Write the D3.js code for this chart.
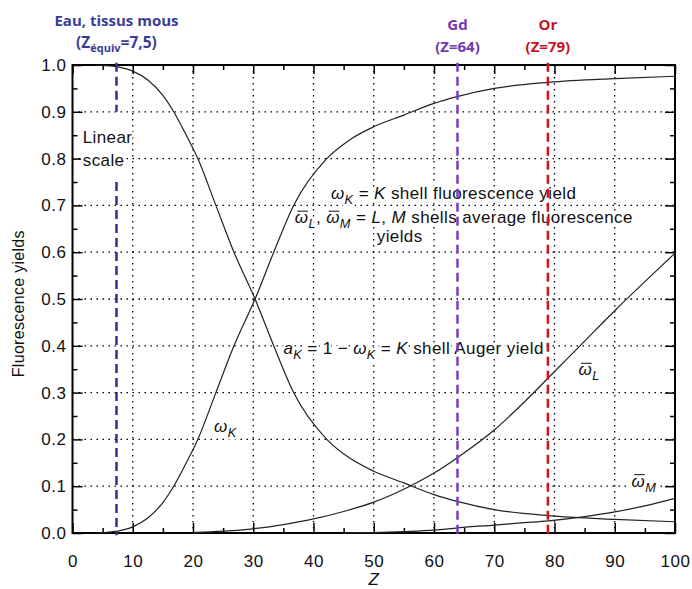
<!DOCTYPE html>
<html>
<head>
<meta charset="utf-8">
<script src="https://cdn.jsdelivr.net/npm/d3@7"></script>
<style>
  body { margin: 0; background: #fff; }
  svg { display: block; }
  text { font-family: "Liberation Sans", Arial, sans-serif; }
  .note { font-family: "Open Sans", Lato, sans-serif; font-weight: bold; }
  .halo { paint-order: stroke; stroke: #fff; stroke-width: 5px; stroke-linejoin: round; }
</style>
</head>
<body>
<div id="chart"></div>
<script>
// values
var zK = [4, 5, 7.5, 10, 12.5, 15, 16.8, 18.8, 20.8, 23.8, 26.8, 30.3, 33.4, 36.7, 42.2, 46, 50, 55, 60, 64, 70, 79, 90, 100];
var omegaK = [0, 0.001, 0.004, 0.013, 0.032, 0.065, 0.1, 0.148, 0.2, 0.3, 0.4, 0.5, 0.6, 0.7, 0.8, 0.84, 0.868, 0.893, 0.918, 0.933, 0.95, 0.963, 0.971, 0.976];
var augerK = [1, 0.999, 0.996, 0.987, 0.968, 0.935, 0.9, 0.852, 0.8, 0.7, 0.6, 0.5, 0.4, 0.3, 0.2, 0.16, 0.132, 0.107, 0.082, 0.067, 0.05, 0.037, 0.029, 0.024];

var zL = [20, 25, 30, 35, 40, 45, 50, 56, 60, 64, 70, 75, 80, 85, 90, 95, 100];
var omegaL = [0.001, 0.004, 0.009, 0.018, 0.03, 0.046, 0.066, 0.1, 0.128, 0.162, 0.22, 0.28, 0.345, 0.41, 0.475, 0.537, 0.598];

var zM = [45, 50, 55, 60, 64, 70, 75, 79, 85, 90, 95, 100];
var omegaM = [0, 0.001, 0.003, 0.006, 0.011, 0.017, 0.022, 0.026, 0.035, 0.045, 0.058, 0.074];

var xTicks = [0, 10, 20, 30, 40, 50, 60, 70, 80, 90, 100];
var yTicks = [0, 0.1, 0.2, 0.3, 0.4, 0.5, 0.6, 0.7, 0.8, 0.9, 1.0];

// marker lines: water (Z equiv 7.5), Gd, Au
var markerZ = [7.3, 63.9, 78.9];

var width = 692, height = 589;
var margin = { top: 65, right: 17, bottom: 56, left: 72.5 };
var innerW = width - margin.left - margin.right,
    innerH = height - margin.top - margin.bottom;

var svg = d3.select("#chart").append("svg")
    .attr("width", width)
    .attr("height", height);

var canvas = svg.append("g")
    .attr("transform", "translate(" + margin.left + "," + margin.top + ")");

var x = d3.scaleLinear().domain([0, 100]).range([0, innerW]);
var y = d3.scaleLinear().domain([0, 1]).range([innerH, 0]);

// dotted grid
canvas.append("g").selectAll("line")
    .data(xTicks.slice(1, -1))
    .enter().append("line")
    .attr("x1", function (d) { return x(d); })
    .attr("x2", function (d) { return x(d); })
    .attr("y1", 0).attr("y2", innerH)
    .attr("stroke", "#000").attr("stroke-width", 1.3)
    .attr("stroke-dasharray", "1.5,4.5");

canvas.append("g").selectAll("line")
    .data(yTicks.slice(1, -1))
    .enter().append("line")
    .attr("y1", function (d) { return y(d); })
    .attr("y2", function (d) { return y(d); })
    .attr("x1", 0).attr("x2", innerW)
    .attr("stroke", "#000").attr("stroke-width", 1.3)
    .attr("stroke-dasharray", "1.5,4.5");

// axes with inward ticks, major + minor
var minorX = d3.range(5, 100, 10), minorY = d3.range(0.05, 1, 0.1);

var addAxis = function (axis, transform, labels) {
    var g = canvas.append("g").attr("transform", transform).call(axis);
    g.select(".domain").remove();
    g.selectAll(".tick line").attr("stroke-width", 1.5);
    g.selectAll(".tick text")
        .style("font-family", "'Liberation Sans', Arial, sans-serif")
        .style("font-size", "17px")
        .style("letter-spacing", "0.5px")
        .attr("fill", "#111");
    if (!labels) g.selectAll(".tick text").remove();
    return g;
};

addAxis(d3.axisBottom(x).tickValues(xTicks).tickSize(-10).tickPadding(22).tickFormat(d3.format("d")),
    "translate(0," + innerH + ")", true);
addAxis(d3.axisBottom(x).tickValues(minorX).tickSize(-5).tickFormat(""), "translate(0," + innerH + ")", false);
addAxis(d3.axisTop(x).tickValues(xTicks).tickSize(-9).tickFormat(""), "translate(0,0)", false);
addAxis(d3.axisTop(x).tickValues(minorX).tickSize(-5).tickFormat(""), "translate(0,0)", false);
addAxis(d3.axisLeft(y).tickValues(yTicks).tickSize(-10).tickPadding(6).tickFormat(d3.format(".1f")),
    "translate(0,0)", true);
addAxis(d3.axisLeft(y).tickValues(minorY).tickSize(-5).tickFormat(""), "translate(0,0)", false);
addAxis(d3.axisRight(y).tickValues(yTicks).tickSize(-10).tickFormat(""), "translate(" + innerW + ",0)", false);
addAxis(d3.axisRight(y).tickValues(minorY).tickSize(-5).tickFormat(""), "translate(" + innerW + ",0)", false);

// helper for text with italic parts, subscripts and overlines
// parts: [text, italic?, sub?, overline?]
var textLayer = canvas.append("g");
var richText = function (px, py, parts, size) {
    var t = textLayer.append("text")
        .attr("class", "halo")
        .attr("x", px).attr("y", py)
        .attr("font-size", size + "px")
        .attr("fill", "#111")
        .style("letter-spacing", "0.4px");
    var down = false, bars = [];
    parts.forEach(function (p) {
        var s = t.append("tspan").text(p[0]);
        if (p[1]) s.attr("font-style", "italic");
        if (p[3]) bars.push(s);
        if (p[2] && !down) { s.attr("dy", 5).attr("font-size", (size * 0.75) + "px"); down = true; }
        else if (p[2]) { s.attr("font-size", (size * 0.75) + "px"); }
        else if (!p[2] && down) { s.attr("dy", -5); down = false; }
    });
    // short bar just above the omega
    bars.forEach(function (s) {
        var box = s.node().getExtentOfChar(0);
        textLayer.append("line")
            .attr("x1", box.x + 2.5).attr("x2", box.x + box.width - 0.5)
            .attr("y1", py - 12).attr("y2", py - 12)
            .attr("stroke", "#111").attr("stroke-width", 1);
    });
    return t;
};

var OM = "\u03C9";

richText(x(1.7), y(0.834), [["Linear"]], 17);
richText(x(1.7), y(0.785), [["scale"]], 17);

richText(x(42.9), y(0.714), [[OM, true], ["K", true, true], [" = "], ["K", true], [" shell fluorescence yield"]], 17);
richText(x(36.9), y(0.662), [[OM, true, false, true], ["L", true, true], [", "], [OM, true, false, true], ["M", true, true], [" = "], ["L", true], [", "], ["M", true], [" shells average fluorescence"]], 17);
richText(x(50.5), y(0.622), [["yields"]], 17);

richText(x(35.0), y(0.382), [["a", true], ["K", true, true], [" = 1 \u2212 "], [OM, true], ["K", true, true], [" = "], ["K", true], [" shell Auger yield"]], 17);

richText(x(23.5), y(0.216), [[OM, true], ["K", true, true]], 17);
richText(x(84.0), y(0.337), [[OM, true, false, true], ["L", true, true]], 17);
richText(x(92.8), y(0.099), [[OM, true, false, true], ["M", true, true]], 17);

// frame
canvas.append("rect")
    .attr("width", innerW).attr("height", innerH)
    .attr("fill", "none").attr("stroke", "#000").attr("stroke-width", 2);

// curves
var line = d3.line()
    .x(function (d) { return x(d[0]); })
    .y(function (d) { return y(d[1]); })
    .curve(d3.curveMonotoneX);

var curves = [d3.zip(zK, omegaK), d3.zip(zK, augerK), d3.zip(zL, omegaL), d3.zip(zM, omegaM)];

canvas.append("g").selectAll("path")
    .data(curves)
    .enter().append("path")
    .attr("d", line)
    .attr("fill", "none")
    .attr("stroke", "#222")
    .attr("stroke-width", 1.2);

// dashed element markers
var markerColors = ["#2e3192", "#7a3cc0", "#d8101a"];
var segs = [
    [markerZ[0], 1.005, 0.9], [markerZ[0], 0.75, -0.005],
    [markerZ[1], 1.005, -0.008], [markerZ[2], 1.005, -0.008]
];
var segColor = [markerColors[0], markerColors[0], markerColors[1], markerColors[2]];

canvas.append("g").selectAll("line")
    .data(segs)
    .enter().append("line")
    .attr("x1", function (d) { return x(d[0]); })
    .attr("x2", function (d) { return x(d[0]); })
    .attr("y1", function (d) { return y(d[1]); })
    .attr("y2", function (d) { return y(d[2]); })
    .attr("stroke", function (d, i) { return segColor[i]; })
    .attr("stroke-width", 2.5)
    .attr("stroke-dasharray", "9,5");

// labels of axes
svg.append("text")
    .attr("transform", "translate(24," + (margin.top + y(0.49)) + ") rotate(-90)")
    .attr("text-anchor", "middle")
    .attr("font-size", "16px")
    .attr("fill", "#111")
    .style("letter-spacing", "0.3px")
    .text("Fluorescence yields");

svg.append("text")
    .attr("x", margin.left + x(50)).attr("y", 585)
    .attr("text-anchor", "middle")
    .attr("font-size", "17px")
    .attr("font-style", "italic")
    .attr("fill", "#111")
    .text("Z");

// annotations above the frame
var note = function (cx, cy, txt, color) {
    return svg.append("text")
        .attr("class", "note")
        .attr("x", margin.left + x(cx)).attr("y", cy)
        .attr("text-anchor", "middle")
        .attr("font-size", "15px")
        .attr("fill", color)
        .text(txt);
};

note(markerZ[0], 26, "Eau, tissus mous", "#3b3b98");
var eq = svg.append("text")
    .attr("class", "note")
    .attr("x", margin.left + x(markerZ[0])).attr("y", 48)
    .attr("text-anchor", "middle")
    .attr("font-size", "15.5px")
    .attr("fill", "#3b3b98");
eq.append("tspan").text("(Z");
eq.append("tspan").attr("font-size", "11px").attr("dy", 4).text("\u00e9quiv");
eq.append("tspan").attr("dy", -4).text("=7,5)");

note(markerZ[1], 30, "Gd", "#7438b0");
note(markerZ[1], 52, "(Z=64)", "#7438b0");
note(markerZ[2], 30, "Or", "#c8101e");
note(markerZ[2], 52, "(Z=79)", "#c8101e");
</script>
</body>
</html>
